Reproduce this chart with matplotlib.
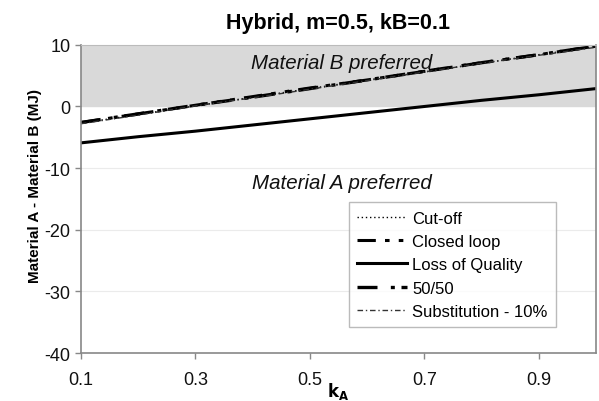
import matplotlib.pyplot as plt

plt.rcParams['font.family'] = ['Liberation Sans', 'DejaVu Sans']
plt.rcParams['axes.unicode_minus'] = False

# k_A values and net energy difference (MJ) for each end-of-life scenario
k_a = [0.1, 0.2, 0.3, 0.4, 0.5, 0.6, 0.7, 0.8, 0.9, 1.0]
cut_off = [-2.7, -1.3, 0.1, 1.5, 2.9, 4.3, 5.6, 7.0, 8.4, 9.7]
closed_loop = [-2.6, -1.2, 0.2, 1.6, 3.0, 4.3, 5.7, 7.1, 8.4, 9.8]
loss_of_quality = [-5.9, -4.9, -4.0, -3.0, -2.0, -1.0, 0.0, 1.0, 1.9, 2.9]
fifty_fifty = [-2.6, -1.2, 0.2, 1.5, 2.9, 4.3, 5.7, 7.1, 8.4, 9.8]
substitution = [-2.8, -1.4, 0.1, 1.4, 2.8, 4.2, 5.6, 7.0, 8.3, 9.6]

fig = plt.figure(figsize=(5.99, 4.02), dpi=100)
ax = fig.add_axes([0.135, 0.119, 0.86, 0.767])

# shaded region where material B is preferred
ax.axhspan(0, 10, color='#d9d9d9', zorder=0)
for y in [-10, -20, -30]:
    ax.axhline(y, color='#ebebeb', lw=0.8, zorder=0)

ax.plot(k_a, cut_off, color='black', lw=1.0, ls=(0, (1, 2)), label='Cut-off')
ax.plot(k_a, closed_loop, color='black', lw=2.2, ls=(0, (6, 3, 1.5, 3, 1.5, 3)), label='Closed loop')
ax.plot(k_a, loss_of_quality, color='black', lw=2.2, ls='-', label='Loss of Quality')
ax.plot(k_a, fifty_fifty, color='black', lw=2.4, ls=(0, (6, 4, 1.2, 2)), label='50/50')
ax.plot(k_a, substitution, color='#333333', lw=1.0, ls=(0, (4, 2, 1, 2)), label='Substitution - 10%')

ax.text(0.556, 7.2, 'Material B preferred', ha='center', va='center',
        style='italic', fontsize=14.8, color='#111111')
ax.text(0.556, -12.3, 'Material A preferred', ha='center', va='center',
        style='italic', fontsize=14.8, color='#111111')

ax.set_xlim(0.1, 1.0)
ax.set_ylim(-40, 10)
ax.set_xticks([0.1, 0.3, 0.5, 0.7, 0.9])
ax.set_xticklabels(['0.1', '0.3', '0.5', '0.7', '0.9'])
ax.set_yticks([-40, -30, -20, -10, 0, 10])
ax.tick_params(labelsize=13, color='#888888', length=4, width=1, labelcolor='#111111')
ax.tick_params(axis='x', pad=9)

for side in ['left', 'bottom', 'right']:
    ax.spines[side].set_color('#888888')
    ax.spines[side].set_linewidth(1.2)
ax.spines['top'].set_color('#bbbbbb')

ax.set_title('Hybrid, m=0.5, kB=0.1', fontsize=15.5, fontweight='bold', pad=12)
ax.set_ylabel('Material A - Material B (MJ)', fontsize=11, fontweight='bold')
ax.yaxis.set_label_coords(-0.075, 0.545)
ax.set_xlabel(r'$\mathbf{k_A}$', fontsize=12, labelpad=-6)

leg = ax.legend(loc='lower left', bbox_to_anchor=(0.52, 0.084), fontsize=12,
                frameon=True, fancybox=False, handlelength=3.0, handletextpad=0.3,
                labelspacing=0.5, borderpad=0.5, borderaxespad=0)
leg.get_frame().set_edgecolor('#aaaaaa')
leg.get_frame().set_linewidth(1.0)

fig.savefig('out.png', dpi=100)
